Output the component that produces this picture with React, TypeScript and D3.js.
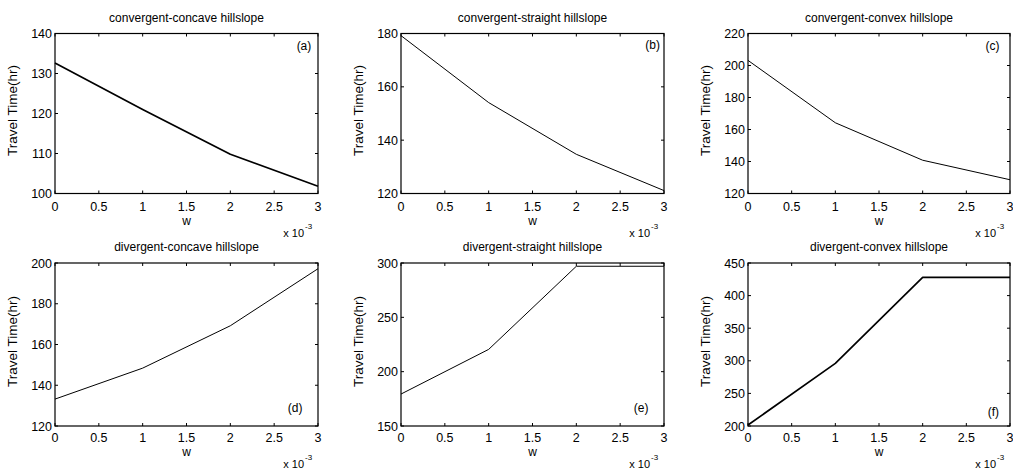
import React from "react";
import * as d3 from "d3";

const wValues = [0, 0.001, 0.002, 0.003];
const xTicks = [0, 0.0005, 0.001, 0.0015, 0.002, 0.0025, 0.003];

const titles = [
  "convergent-concave hillslope",
  "convergent-straight hillslope",
  "convergent-convex hillslope",
  "divergent-concave hillslope",
  "divergent-straight hillslope",
  "divergent-convex hillslope",
];
const panelTags = ["(a)", "(b)", "(c)", "(d)", "(e)", "(f)"];

const seriesA = [132.6, 121.0, 109.8, 101.8];
const seriesB = [179.2, 154.1, 134.7, 121.1];
const seriesC = [203.2, 164.2, 140.8, 128.6];
const seriesD = [133.2, 148.4, 169.2, 197.2];
const seriesE = [179.4, 220.5, 297.0, 297.0];
const seriesF = [201.5, 296.0, 428.0, 428.0];
const allSeries = [seriesA, seriesB, seriesC, seriesD, seriesE, seriesF];

const yDomains: [number, number][] = [
  [100, 140],
  [120, 180],
  [120, 220],
  [120, 200],
  [150, 300],
  [200, 450],
];
const yTickLists = [
  [100, 110, 120, 130, 140],
  [120, 140, 160, 180],
  [120, 140, 160, 180, 200, 220],
  [120, 140, 160, 180, 200],
  [150, 200, 250, 300],
  [200, 250, 300, 350, 400, 450],
];
// tag positions in data coordinates (like MATLAB text(x, y, ...))
const tagX = [0.00284, 0.00287, 0.0028, 0.00274, 0.00274, 0.00281];
const tagY = [137.1, 175.7, 212.8, 129.0, 166.6, 221.5];

const yLabel = "Travel Time(hr)";
const xLabel = "w";

const colLeft = [55, 401, 748];
const colWidth = [263, 263, 262];
const rowTop = [33.5, 263];
const rowHeight = [160, 163];
const tickLabelOff = [17.5, 16];
const xLabelOff = [31, 29.5];
const expOff = [43.5, 41.5];
const lineWidths = [1.7, 1, 1, 1, 1, 1.7];

const FONT = "'Liberation Sans', Arial, Helvetica, sans-serif";

function Panel({ i }: { i: number }) {
  const col = i % 3;
  const row = Math.floor(i / 3);
  const x0 = colLeft[col];
  const y0 = rowTop[row];
  const w = colWidth[col];
  const h = rowHeight[row];
  const x = d3.scaleLinear().domain([0, 0.003]).range([x0, x0 + w]);
  const y = d3.scaleLinear().domain(yDomains[i]).range([y0 + h, y0]);
  const line = d3
    .line<number>()
    .x((_, k) => x(wValues[k]))
    .y((v) => y(v));
  const data = allSeries[i];
  const tl = 3;
  const fmt = (v: number) => d3.format("~g")(+(v * 1000).toFixed(4));
  return (
    <g>
      <text
        x={x0 + w / 2}
        y={y0 - 12}
        textAnchor="middle"
        fontSize={12}
        fontFamily={FONT}
      >
        {titles[i]}
      </text>
      <path d={line(data) || ""} fill="none" stroke="#000" strokeWidth={lineWidths[i]} strokeLinejoin="round" />
      {xTicks.map((t) => (
        <g key={"x" + t}>
          <line x1={x(t)} x2={x(t)} y1={y0 + h} y2={y0 + h - tl} stroke="#000" strokeWidth={1} />
          <line x1={x(t)} x2={x(t)} y1={y0} y2={y0 + tl} stroke="#000" strokeWidth={1} />
          <text
            x={x(t)}
            y={y0 + h + tickLabelOff[row]}
            textAnchor="middle"
            fontSize={12.5}
            fontFamily={FONT}
          >
            {fmt(t)}
          </text>
        </g>
      ))}
      {yTickLists[i].map((t) => (
        <g key={"y" + t}>
          <line x1={x0} x2={x0 + tl} y1={y(t)} y2={y(t)} stroke="#000" strokeWidth={1} />
          <line x1={x0 + w} x2={x0 + w - tl} y1={y(t)} y2={y(t)} stroke="#000" strokeWidth={1} />
          <text
            x={x0 - 3}
            y={y(t) + 4.5}
            textAnchor="end"
            fontSize={12.5}
            fontFamily={FONT}
          >
            {t}
          </text>
        </g>
      ))}
      <rect x={x0} y={y0} width={w} height={h} fill="none" stroke="#000" strokeWidth={1.2} />
      <text
        x={x(tagX[i])}
        y={y(tagY[i]) + 4.5}
        textAnchor="middle"
        fontSize={12}
        fontFamily={FONT}
      >
        {panelTags[i]}
      </text>
      <text
        x={x0 + w / 2}
        y={y0 + h + xLabelOff[row]}
        textAnchor="middle"
        fontSize={12}
        fontFamily={FONT}
      >
        {xLabel}
      </text>
      <text
        x={x0 + w - 14}
        y={y0 + h + expOff[row]}
        textAnchor="end"
        fontSize={11}
        fontFamily={FONT}
      >
        x 10
      </text>
      <text x={x0 + w - 13} y={y0 + h + expOff[row] - 8} textAnchor="start" fontSize={8} fontFamily={FONT}>
        -3
      </text>
      <text
        transform={`translate(${x0 - 38},${y0 + h / 2 - 3}) rotate(-90)`}
        textAnchor="middle"
        fontSize={13.5}
        fontFamily={FONT}
      >
        {yLabel}
      </text>
    </g>
  );
}

export default function App() {
  return (
    <svg
      width={1013}
      height={470}
      style={{ position: "absolute", left: 0, top: 0, background: "#fff" }}
    >
      <rect x={0} y={0} width={1013} height={470} fill="#fff" />
      {titles.map((_, i) => (
        <Panel key={i} i={i} />
      ))}
    </svg>
  );
}
